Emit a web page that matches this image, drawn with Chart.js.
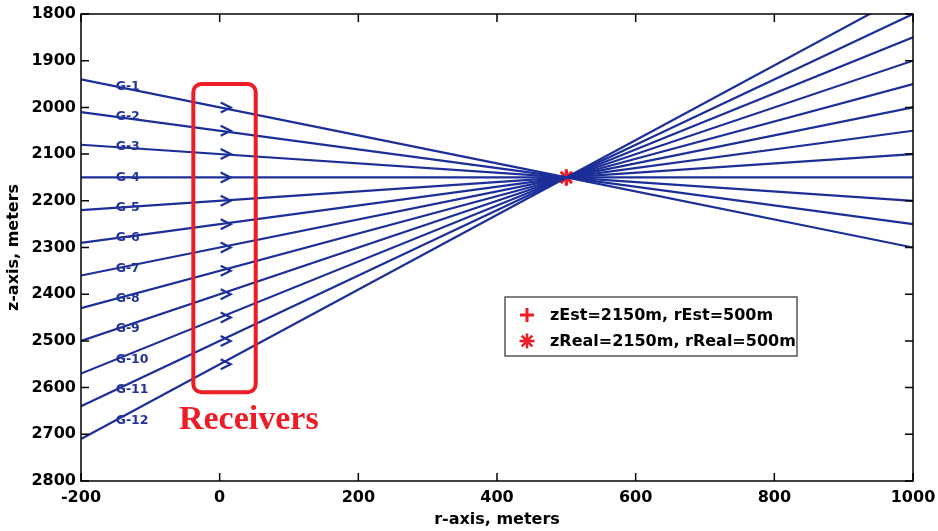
<!DOCTYPE html>
<html><head><meta charset="utf-8">
<script src="https://cdn.jsdelivr.net/npm/chart.js@4/dist/chart.umd.min.js"></script>
<style>html,body{margin:0;padding:0;background:#fff}#wrap{width:938px;height:531px;position:relative}</style>
</head><body><div id="wrap"><canvas id="c"></canvas></div>
<script>
// ---- data ----
const rayNames = ['G-1','G-2','G-3','G-4','G-5','G-6','G-7','G-8','G-9','G-10','G-11','G-12'];
const rayStartR = -200;
const rayEndR = 1000;
const rayStartZ = [1940,2010,2080,2150,2220,2290,2360,2430,2500,2570,2640,2710];
const rayEndZ   = [2300,2250,2200,2150,2100,2050,2000,1950,1900,1850,1800,1750];
const sourceR = 500, sourceZ = 2150;      // real source
const estR = 500, estZ = 2150;            // estimated source
const receiverR = 0;
const receiverZ = [2000,2050,2100,2150,2200,2250,2300,2350,2400,2450,2500,2550];
const labelR = -150;
const labelZ = [1955,2020,2085,2150,2215,2280,2345,2410,2475,2540,2605,2670];
const xTicks = [-200,0,200,400,600,800,1000];
const yTicks = [1800,1900,2000,2100,2200,2300,2400,2500,2600,2700,2800];
const legendTexts = ['zEst=2150m, rEst=500m','zReal=2150m, rReal=500m'];
const boxR = [-38, 52];
const boxZ = [1950, 2610];
const noteText = 'Receivers';
const noteR = 42, noteZ = 2689;

const LINE = '#1c2e98';
const RED = '#ee1c24';
Chart.defaults.font.family = 'DejaVu Sans';

const datasets = rayNames.map((n,i)=>({
  label: n,
  data: [{x:rayStartR,y:rayStartZ[i]},{x:sourceR,y:sourceZ},{x:rayEndR,y:rayEndZ[i]}],
  showLine: true, borderColor: LINE, borderWidth: 2.2, pointRadius: 0, fill: false
}));
datasets.push({label:'est', data:[{x:estR,y:estZ}], pointStyle:'cross', pointRadius:8, borderColor:RED, backgroundColor:RED, pointBorderWidth:3});
datasets.push({label:'real', data:[{x:sourceR,y:sourceZ}], pointStyle:'star', pointRadius:8, borderColor:RED, backgroundColor:RED, pointBorderWidth:3});

const deco = {
  id:'deco',
  afterDatasetsDraw(chart){
    const ctx = chart.ctx, ca = chart.chartArea, xs = chart.scales.x, ys = chart.scales.y;
    ctx.save();
    // labels
    ctx.font = 'bold 12.5px "DejaVu Sans"';
    ctx.fillStyle = '#23339a'; ctx.textAlign='left'; ctx.textBaseline='middle';
    rayNames.forEach((n,i)=>ctx.fillText(n, xs.getPixelForValue(labelR), ys.getPixelForValue(labelZ[i])));
    // receivers arrows
    ctx.strokeStyle = LINE; ctx.lineWidth = 2.2;
    receiverZ.forEach(z=>{
      const x = xs.getPixelForValue(receiverR)+1, y = ys.getPixelForValue(z);
      ctx.beginPath(); ctx.moveTo(x, y-5); ctx.lineTo(x+10, y); ctx.lineTo(x, y+5); ctx.stroke();
    });
    // red receivers box
    const bx0 = xs.getPixelForValue(boxR[0]), bx1 = xs.getPixelForValue(boxR[1]);
    const by0 = ys.getPixelForValue(boxZ[0]), by1 = ys.getPixelForValue(boxZ[1]);
    ctx.strokeStyle = RED; ctx.lineWidth = 4;
    ctx.beginPath(); ctx.roundRect(bx0, by0, bx1-bx0, by1-by0, 8); ctx.stroke();
    ctx.fillStyle = RED; ctx.font = 'bold 34px "Liberation Serif"'; ctx.textAlign='center'; ctx.textBaseline='alphabetic';
    ctx.fillText(noteText, xs.getPixelForValue(noteR), ys.getPixelForValue(noteZ));
    // frame
    ctx.strokeStyle = '#000'; ctx.lineWidth = 1.5;
    ctx.strokeRect(ca.left, ca.top, ca.right-ca.left, ca.bottom-ca.top);
    xTicks.forEach(v=>{
      const x = xs.getPixelForValue(v);
      ctx.beginPath(); ctx.moveTo(x, ca.bottom); ctx.lineTo(x, ca.bottom-8);
      ctx.moveTo(x, ca.top); ctx.lineTo(x, ca.top+8); ctx.stroke();
    });
    yTicks.forEach(v=>{
      const y = ys.getPixelForValue(v);
      ctx.beginPath(); ctx.moveTo(ca.left, y); ctx.lineTo(ca.left+8, y);
      ctx.moveTo(ca.right, y); ctx.lineTo(ca.right-8, y); ctx.stroke();
    });
    // legend
    const lx = 505, ly = 297, lw = 292, lh = 59;
    ctx.fillStyle = '#fff'; ctx.fillRect(lx, ly, lw, lh);
    ctx.strokeStyle = '#555'; ctx.lineWidth = 1.5; ctx.strokeRect(lx, ly, lw, lh);
    const rows = [ly+18, ly+44];
    ctx.strokeStyle = RED;
    ctx.lineWidth = 3;
    ctx.beginPath(); ctx.moveTo(lx+15, rows[0]); ctx.lineTo(lx+29, rows[0]); ctx.moveTo(lx+22, rows[0]-7); ctx.lineTo(lx+22, rows[0]+7); ctx.stroke();
    ctx.lineWidth = 2.5;
    for (let k=0;k<4;k++){ const a = k*Math.PI/4; const r=7.5;
      ctx.beginPath(); ctx.moveTo(lx+22-r*Math.cos(a), rows[1]-r*Math.sin(a)); ctx.lineTo(lx+22+r*Math.cos(a), rows[1]+r*Math.sin(a)); ctx.stroke(); }
    ctx.fillStyle = '#000'; ctx.font = 'bold 16px "DejaVu Sans"'; ctx.textAlign='left'; ctx.textBaseline='middle';
    legendTexts.forEach((t,i)=>ctx.fillText(t, lx+45, rows[i]+1));
    ctx.restore();
  }
};

new Chart(document.getElementById('c'), {
  type: 'scatter',
  data: { datasets },
  options: {
    responsive: true, maintainAspectRatio: false, animation: false,
    layout: { padding: { top: 14, right: 25, left: 0, bottom: 0 } },
    plugins: { legend: { display: false }, tooltip: { enabled: false } },
    scales: {
      x: {
        type: 'linear', min: -200, max: 1000,
        afterBuildTicks: s => { s.ticks = xTicks.map(v=>({value:v})); },
        afterFit: s => { s.height = 50; s.paddingLeft = 0; s.paddingRight = 0; },
        grid: { display: false, drawTicks: false }, border: { display: false },
        ticks: { color: '#000', font: { size: 16, weight: 'bold' }, padding: 7, maxRotation: 0, callback: v => String(v) },
        title: { display: true, text: 'r-axis, meters', color: '#000', font: { size: 16, weight: 'bold' }, padding: { top: 0, bottom: 2 } }
      },
      y: {
        type: 'linear', min: 1800, max: 2800, reverse: true,
        afterBuildTicks: s => { s.ticks = yTicks.map(v=>({value:v})); },
        afterFit: s => { s.width = 81; s.paddingTop = 0; s.paddingBottom = 0; },
        grid: { display: false, drawTicks: false }, border: { display: false },
        ticks: { color: '#000', font: { size: 16, weight: 'bold' }, padding: 5, callback: v => String(v) },
        title: { display: true, text: 'z-axis, meters', color: '#000', font: { size: 16, weight: 'bold' }, padding: { top: 4, bottom: 0 } }
      }
    }
  },
  plugins: [deco]
});
</script>
</body></html>
